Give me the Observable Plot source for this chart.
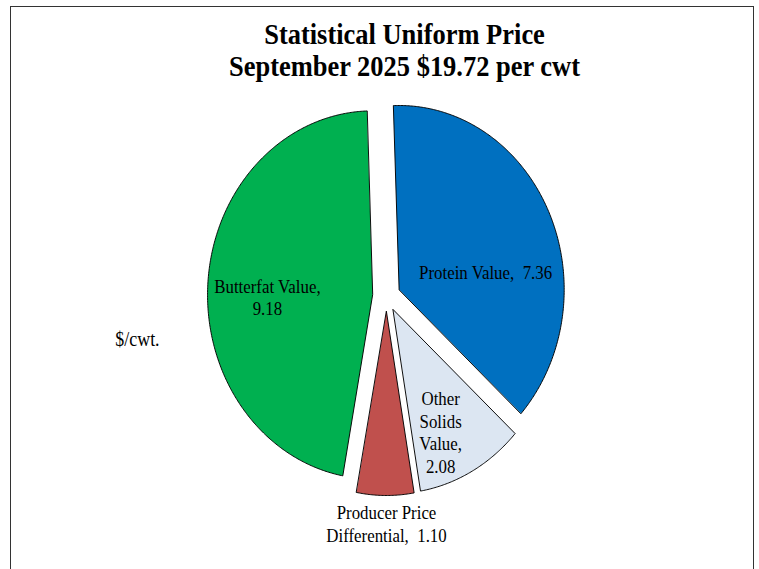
<!DOCTYPE html>
<html>
<head>
<meta charset="utf-8">
<script src="https://cdn.jsdelivr.net/npm/d3@7"></script>
<script src="https://cdn.jsdelivr.net/npm/@observablehq/plot@0.6"></script>
<style>
html, body { margin: 0; padding: 0; background: #fff; overflow: hidden; width: 759px; height: 569px; }
#chart { position: absolute; left: 0; top: 0; width: 846px; transform-origin: 0 0; }
#border { position: absolute; left: 10px; top: 6px; width: 744px; height: 700px; border: 1.5px solid #333; border-bottom: none; box-sizing: border-box; }
svg text { white-space: pre; }
</style>
</head>
<body>
<div id="border"></div>
<div id="chart"></div>
<script>
// ---- data ----
const titleLines = ["Statistical Uniform Price", "September 2025 $19.72 per cwt"];
const categories = ["Protein Value", "Other Solids Value", "Producer Price Differential", "Butterfat Value"];
const values = [7.36, 2.08, 1.10, 9.18];
const colors = ["#0070C0", "#DCE6F2", "#C0504D", "#00B050"];
const labelTexts = ["Protein Value,  7.36", "Other\nSolids\nValue,\n2.08", "Producer Price\nDifferential,  1.10", "Butterfat Value,\n9.18"];
const unitLabel = "$/cwt.";

// ---- layout ----
const s = 0.897;              // horizontal squeeze of the original picture
const W = 846, H = 569;
const cx = 430.3, cy = 295.5, R = 184;
const explode = 15.5 / R;
const rotation = -2 * Math.PI / 180;
const labelShift = [[12.9, 28], [8.8, 82.2], [0.7, 138.1], [-25.5, 27.3]];

const arcs = d3.pie().sort(null).startAngle(rotation).endAngle(rotation + 2 * Math.PI)(values);
const rows = [];
const labelRows = [];
arcs.forEach((a, i) => {
  const mid = (a.startAngle + a.endAngle) / 2;
  const ox = explode * Math.sin(mid), oy = explode * Math.cos(mid);
  rows.push({category: categories[i], x: ox, y: oy});
  const n = Math.max(2, Math.ceil((a.endAngle - a.startAngle) / (Math.PI / 360)));
  for (let k = 0; k <= n; k++) {
    const t = a.startAngle + (a.endAngle - a.startAngle) * k / n;
    rows.push({category: categories[i], x: ox + Math.sin(t), y: oy + Math.cos(t)});
  }
  labelRows.push({text: labelTexts[i], x: ox + 0.5 * Math.sin(mid), y: oy + 0.5 * Math.cos(mid)});
});

const font = "'Liberation Serif', 'Times New Roman', Times, serif";
const labelMarks = labelRows.map((d, i) => Plot.text([d], {
  x: "x", y: "y", text: "text",
  dx: labelShift[i][0], dy: labelShift[i][1],
  lineAnchor: "bottom", lineHeight: 1.19, fontSize: 18.8, fill: "black"
}));

const plot = Plot.plot({
  width: W, height: H,
  marginTop: 0, marginRight: 0, marginBottom: 0, marginLeft: 0,
  style: {fontFamily: font, maxWidth: "none", overflow: "visible", background: "transparent"},
  x: {domain: [-1, 1], range: [cx - R, cx + R], axis: null},
  y: {domain: [-1, 1], range: [cy + R, cy - R], axis: null},
  color: {domain: categories, range: colors},
  marks: [
    Plot.line(rows, {x: "x", y: "y", z: "category", fill: "category", stroke: "black", strokeWidth: 1, curve: "linear-closed"}),
    ...labelMarks,
    Plot.text([titleLines.join("\n")], {text: d => d, frameAnchor: "top", dx: 27.4, dy: 75, lineAnchor: "bottom", lineHeight: 1.07, fontSize: 29.5, fontWeight: "bold", fill: "black"}),
    Plot.text([unitLabel], {text: d => d, frameAnchor: "left", textAnchor: "start", dx: 128, dy: 60.5, lineAnchor: "bottom", fontSize: 20, fill: "black"})
  ]
});
const chart = document.getElementById("chart");
chart.appendChild(plot);
chart.style.transform = `scaleX(${759 / W})`;
</script>
</body>
</html>
